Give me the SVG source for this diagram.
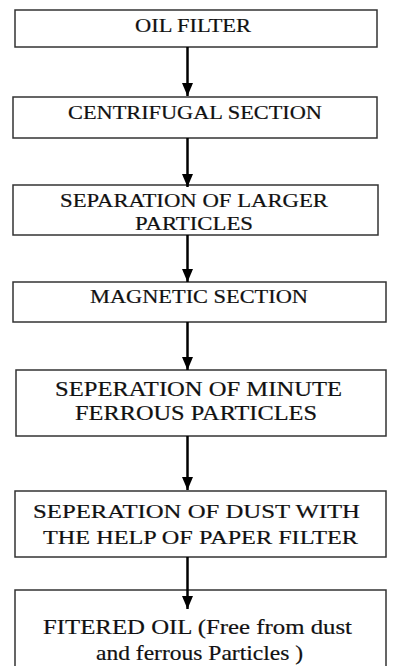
<svg xmlns="http://www.w3.org/2000/svg" width="400" height="666" viewBox="0 0 400 666">
  <style>
    .box { fill: #ffffff; stroke: #333333; stroke-width: 1.5; }
    .t { font-family: "Liberation Serif", "Times New Roman", serif; fill: #111111; stroke: #111111; stroke-width: 0.2; text-anchor: start; }
    .s18 { font-size: 18px; }
    .s19 { font-size: 19px; }
    .s20 { font-size: 20px; }
    .s21 { font-size: 21px; }
    .conn { stroke: #000000; stroke-width: 2.5; fill: none; }
  </style>
  <defs>
    <marker id="ah" markerUnits="userSpaceOnUse" markerWidth="14" markerHeight="11" refX="13" refY="5.5" orient="auto">
      <polygon points="0,0 13,5.5 0,11" fill="#000000"/>
    </marker>
  </defs>
  <rect width="400" height="666" fill="#ffffff"/>

  <g id="node-oil-filter">
    <rect class="box" x="15" y="10" width="362" height="37"/>
    <text class="t s18" x="135" y="32" textLength="116" lengthAdjust="spacingAndGlyphs">OIL FILTER</text>
  </g>
  <g id="node-centrifugal">
    <rect class="box" x="13" y="97" width="364" height="41"/>
    <text class="t s18" x="68" y="119" textLength="254" lengthAdjust="spacingAndGlyphs">CENTRIFUGAL  SECTION</text>
  </g>
  <g id="node-larger">
    <rect class="box" x="13" y="185" width="365" height="50"/>
    <text class="t s18" x="60" y="207" textLength="268" lengthAdjust="spacingAndGlyphs">SEPARATION OF LARGER</text>
    <text class="t s18" x="135" y="230" textLength="118" lengthAdjust="spacingAndGlyphs">PARTICLES</text>
  </g>
  <g id="node-magnetic">
    <rect class="box" x="13" y="282" width="373" height="40"/>
    <text class="t s18" x="90" y="303" textLength="218" lengthAdjust="spacingAndGlyphs">MAGNETIC SECTION</text>
  </g>
  <g id="node-minute">
    <rect class="box" x="16" y="370" width="370" height="66"/>
    <text class="t s20" x="55" y="396" textLength="287" lengthAdjust="spacingAndGlyphs">SEPERATION OF MINUTE</text>
    <text class="t s20" x="75" y="420" textLength="242" lengthAdjust="spacingAndGlyphs">FERROUS PARTICLES</text>
  </g>
  <g id="node-dust">
    <rect class="box" x="15" y="491" width="371" height="66"/>
    <text class="t s19" x="33" y="518" textLength="327" lengthAdjust="spacingAndGlyphs">SEPERATION OF DUST WITH</text>
    <text class="t s19" x="43" y="544" textLength="315" lengthAdjust="spacingAndGlyphs">THE HELP OF PAPER FILTER</text>
  </g>
  <g id="node-filtered">
    <rect class="box" x="15" y="590" width="371" height="90"/>
    <text class="t s21" x="43" y="634" textLength="309" lengthAdjust="spacingAndGlyphs">FITERED OIL (Free from dust</text>
    <text class="t s21" x="96" y="660" textLength="207" lengthAdjust="spacingAndGlyphs">and ferrous Particles )</text>
  </g>

  <g id="connectors">
    <line class="conn" x1="187.5" y1="47" x2="187.5" y2="96" marker-end="url(#ah)"/>
    <line class="conn" x1="187.5" y1="138" x2="187.5" y2="187" marker-end="url(#ah)"/>
    <line class="conn" x1="187.5" y1="235" x2="187.5" y2="282" marker-end="url(#ah)"/>
    <line class="conn" x1="187.5" y1="322" x2="187.5" y2="370" marker-end="url(#ah)"/>
    <line class="conn" x1="187.5" y1="436" x2="187.5" y2="490" marker-end="url(#ah)"/>
    <line class="conn" x1="187.5" y1="557" x2="187.5" y2="609" marker-end="url(#ah)"/>
  </g>
</svg>
